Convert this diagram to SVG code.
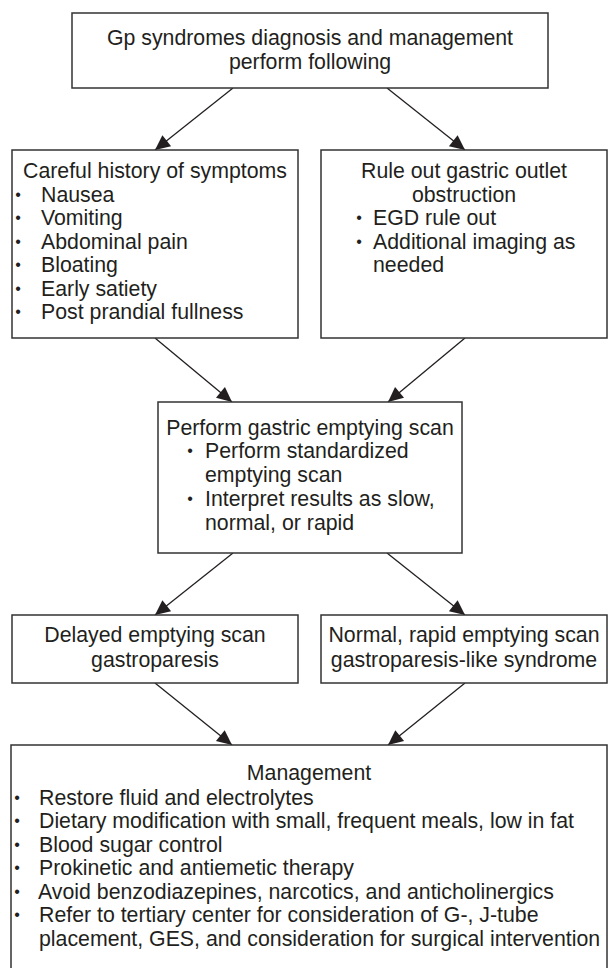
<svg xmlns="http://www.w3.org/2000/svg" width="608" height="968" viewBox="0 0 608 968">
<style>
  .box { fill: #fff; stroke: #333; stroke-width: 1.5; }
  text { font-family: "Liberation Sans", Arial, sans-serif; font-size: 21.3px; fill: #231f20; }
  .c { text-anchor: middle; }
  .b { font-size: 16px; text-anchor: middle; }
  .edge { stroke: #231f20; stroke-width: 1.3; fill: none; marker-end: url(#arrow); }
</style>
<defs>
  <marker id="arrow" markerUnits="userSpaceOnUse" markerWidth="18" markerHeight="18" viewBox="0 0 18 18" refX="16" refY="9" orient="auto">
    <path d="M1,2 L16,9 L1,16 Z" fill="#231f20"/>
  </marker>
</defs>
<rect width="608" height="968" fill="#fff"/>

<g id="connectors">
  <line class="edge" x1="233" y1="88" x2="155" y2="150"/>
  <line class="edge" x1="387" y1="88" x2="465" y2="150"/>
  <line class="edge" x1="155" y1="338" x2="232" y2="402"/>
  <line class="edge" x1="465" y1="338" x2="388" y2="402"/>
  <line class="edge" x1="233" y1="553" x2="155" y2="615"/>
  <line class="edge" x1="387" y1="553" x2="465" y2="615"/>
  <line class="edge" x1="155" y1="683" x2="232" y2="745"/>
  <line class="edge" x1="465" y1="683" x2="388" y2="745"/>
</g>

<g id="top">
  <rect class="box" x="72" y="13" width="476" height="75"/>
  <text class="c" x="310" y="45">Gp syndromes diagnosis and management</text>
  <text class="c" x="310" y="69">perform following</text>
</g>

<g id="history">
  <rect class="box" x="12" y="150" width="286" height="188"/>
  <text class="c" x="155" y="178">Careful history of symptoms</text>
  <text class="b" x="18" y="200">•</text><text x="41" y="202">Nausea</text>
  <text class="b" x="18" y="223">•</text><text x="41" y="225">Vomiting</text>
  <text class="b" x="18" y="247">•</text><text x="41" y="249">Abdominal pain</text>
  <text class="b" x="18" y="270">•</text><text x="41" y="272">Bloating</text>
  <text class="b" x="18" y="294">•</text><text x="41" y="296">Early satiety</text>
  <text class="b" x="18" y="317">•</text><text x="41" y="319">Post prandial fullness</text>
</g>

<g id="ruleout">
  <rect class="box" x="321" y="150" width="286" height="188"/>
  <text class="c" x="464" y="178">Rule out gastric outlet</text>
  <text class="c" x="464" y="202">obstruction</text>
  <text class="b" x="359" y="223">•</text><text x="373" y="225">EGD rule out</text>
  <text class="b" x="359" y="247">•</text><text x="373" y="249">Additional imaging as</text>
  <text x="373" y="272">needed</text>
</g>

<g id="scan">
  <rect class="box" x="158" y="402" width="304" height="151"/>
  <text class="c" x="310" y="435">Perform gastric emptying scan</text>
  <text class="b" x="190" y="456">•</text><text x="205" y="458">Perform standardized</text>
  <text x="205" y="482">emptying scan</text>
  <text class="b" x="190" y="504">•</text><text x="205" y="506">Interpret results as slow,</text>
  <text x="205" y="530">normal, or rapid</text>
</g>

<g id="delayed">
  <rect class="box" x="12" y="615" width="286" height="68"/>
  <text class="c" x="155" y="642">Delayed emptying scan</text>
  <text class="c" x="155" y="667">gastroparesis</text>
</g>

<g id="normal">
  <rect class="box" x="321" y="615" width="286" height="68"/>
  <text class="c" x="464" y="642">Normal, rapid emptying scan</text>
  <text class="c" x="464" y="667">gastroparesis-like syndrome</text>
</g>

<g id="management">
  <rect class="box" x="11" y="745" width="596" height="232"/>
  <text class="c" x="309" y="780">Management</text>
  <text class="b" x="17" y="803">•</text><text x="39" y="805">Restore fluid and electrolytes</text>
  <text class="b" x="17" y="826">•</text><text x="39" y="828">Dietary modification with small, frequent meals, low in fat</text>
  <text class="b" x="17" y="850">•</text><text x="39" y="852">Blood sugar control</text>
  <text class="b" x="17" y="873">•</text><text x="39" y="875">Prokinetic and antiemetic therapy</text>
  <text class="b" x="17" y="897">•</text><text x="38" y="899">Avoid benzodiazepines, narcotics, and anticholinergics</text>
  <text class="b" x="17" y="920">•</text><text x="39" y="922">Refer to tertiary center for consideration of G-, J-tube</text>
  <text x="39" y="946">placement, GES, and consideration for surgical intervention</text>
</g>
</svg>
